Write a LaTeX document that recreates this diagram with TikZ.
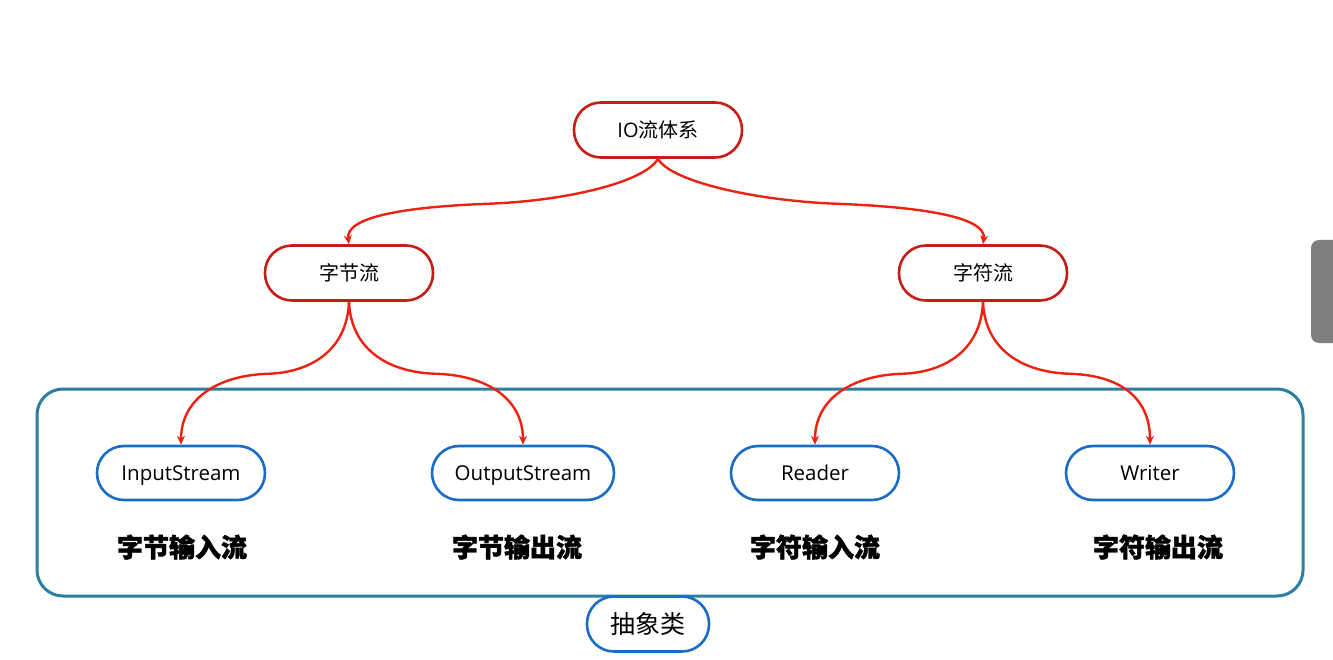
\documentclass[tikz,border=0pt]{standalone}
\usepackage{fontspec}
\setmainfont{Open Sans}
\newfontfamily\cjk{Noto Sans CJK SC}
\usetikzlibrary{arrows.meta,calc}
\definecolor{nodered}{HTML}{C41E16}
\definecolor{arrowred}{HTML}{EE2211}
\definecolor{nodeblue}{HTML}{1A6CC4}
\definecolor{boxteal}{HTML}{2C7FA2}
\definecolor{tabgray}{HTML}{7F7F7F}
\tikzset{
  rednode/.style={draw=nodered, line width=2.6pt, fill=white, rounded corners=27pt,
    minimum width=168pt, minimum height=55pt, inner sep=0pt, text height=17.5pt, text depth=3pt,
    font=\fontsize{20}{23}\selectfont},
  bluenode/.style={draw=nodeblue, line width=2.6pt, fill=white, rounded corners=27pt,
    minimum width=168pt, minimum height=54pt, inner sep=0pt, text height=17.5pt, text depth=3pt,
    font=\fontsize{20.5}{23}\selectfont},
  boldlabel/.style={font=\cjk\bfseries\addfontfeatures{FakeBold=1.6}\fontsize{26}{30}\selectfont, inner sep=0pt},
  conn/.style={draw=arrowred, line width=2.4pt, -{Stealth[length=9pt,width=8pt]}},
}
\begin{document}
\begin{tikzpicture}[x=1pt,y=-1pt]
\useasboundingbox (0,0) rectangle (1333,660);
\fill[white] (0,0) rectangle (1333,660);
% gray side tab
\fill[tabgray, rounded corners=8pt] (1311,240) rectangle (1350,343);
% container
\draw[boxteal, line width=3pt, rounded corners=26pt] (37,389) rectangle (1303,596);
% nodes
\node[rednode] (io) at (658,130) {IO{\cjk 流体系}};
\node[rednode] (byte) at (349,273) {\cjk 字节流};
\node[rednode] (char) at (983,273) {\cjk 字符流};
\node[bluenode] (in) at (181,473) {InputStream};
\node[bluenode, minimum width=182pt] (out) at (523,473) {OutputStream};
\node[bluenode] (rd) at (815,473) {Reader};
\node[bluenode] (wr) at (1150,473) {Writer};
\node[boldlabel] (l1) at (182,547) {字节输入流};
\node[boldlabel] (l2) at (517,547) {字节输出流};
\node[boldlabel] (l3) at (815,547) {字符输入流};
\node[boldlabel] (l4) at (1158,547) {字符输出流};
\node[bluenode, minimum width=122pt, minimum height=55pt, text height=22pt, text depth=4pt,
  font=\cjk\fontsize{25}{28}\selectfont] (abs) at (648,624) {抽象类};
% mid points of the connectors
\coordinate (m1) at ($(io.south)!0.55!(byte.north)+(0,-2)$);
\coordinate (m2) at ($(io.south)!0.55!(char.north)+(0,-2)$);
\coordinate (m3) at ($(byte.south)+(-82,72)$);
\coordinate (m4) at ($(byte.south)+(88,72)$);
\coordinate (m5) at ($(char.south)+(-82,72)$);
\coordinate (m6) at ($(char.south)+(88,72)$);
% connectors
\draw[conn] (io.south) .. controls +(-13,23) and +(80,-3) .. (m1) .. controls +(-80,3) and +(-4,-28) .. (byte.north);
\draw[conn] (io.south) .. controls +(13,23) and +(-80,-3) .. (m2) .. controls +(80,3) and +(4,-28) .. (char.north);
\draw[conn] (byte.south) .. controls +(-2,49) and +(43,-1) .. (m3) .. controls +(-52,2) and +(0,-44) .. (in.north);
\draw[conn] (byte.south) .. controls +(2,49) and +(-47,-1) .. (m4) .. controls +(53,2) and +(0,-44) .. (out.north);
\draw[conn] (char.south) .. controls +(-2,49) and +(43,-1) .. (m5) .. controls +(-52,2) and +(0,-44) .. (rd.north);
\draw[conn] (char.south) .. controls +(2,49) and +(-47,-1) .. (m6) .. controls +(53,2) and +(0,-44) .. (wr.north);
\end{tikzpicture}
\end{document}
